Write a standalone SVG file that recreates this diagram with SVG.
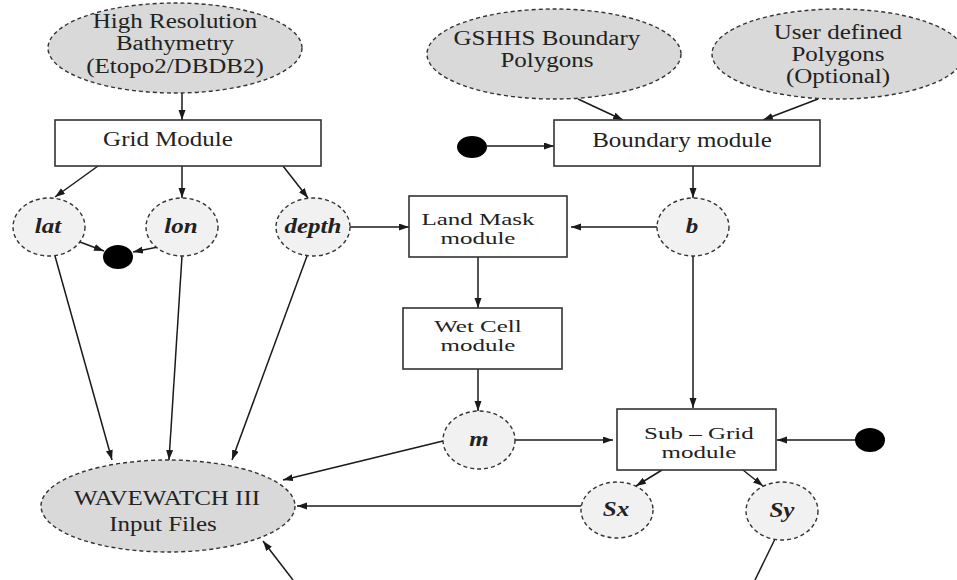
<svg xmlns="http://www.w3.org/2000/svg" width="957" height="580" viewBox="0 0 957 580">
  <style>
    .src { fill: #d9d9d9; stroke: #333; stroke-width: 1.4; stroke-dasharray: 4 3; }
    .var { fill: #f1f1f1; stroke: #333; stroke-width: 1.4; stroke-dasharray: 4 3; }
    .mod { fill: #fff; stroke: #333; stroke-width: 1.6; }
    .dot { fill: #000; }
    .edge { fill: none; stroke: #1a1a1a; stroke-width: 1.5; }
    .arrow { marker-end: url(#head); }
    text { font-family: "Liberation Serif", "Times New Roman", serif; font-size: 20px; fill: #222; text-anchor: middle;
           transform-box: fill-box; transform-origin: center; transform: scaleX(1.25); }
    .lbl { font-weight: bold; font-style: italic; }
    .two { font-size: 17px; transform: scaleX(1.47); }
  </style>
  <defs>
    <marker id="head" markerUnits="userSpaceOnUse" markerWidth="10" markerHeight="8" refX="10" refY="3.5" orient="auto">
      <path d="M0,0 L10,3.5 L0,7 z" fill="#1a1a1a"/>
    </marker>
  </defs>
  <rect width="957" height="580" fill="#fff"/>

  <!-- connectors -->
  <g id="connectors">
    <line class="edge arrow" x1="182" y1="93" x2="182" y2="120"/>
    <line class="edge arrow" x1="98" y1="166" x2="55" y2="197"/>
    <line class="edge arrow" x1="182" y1="166" x2="182" y2="198"/>
    <line class="edge arrow" x1="283" y1="166" x2="308" y2="198"/>
    <line class="edge arrow" x1="80" y1="242" x2="104" y2="251"/>
    <line class="edge arrow" x1="158" y1="247" x2="133" y2="252"/>
    <line class="edge arrow" x1="55" y1="256" x2="112" y2="460"/>
    <line class="edge arrow" x1="182" y1="256" x2="169" y2="460"/>
    <line class="edge arrow" x1="307" y1="256" x2="232" y2="460"/>
    <line class="edge arrow" x1="350" y1="227" x2="409" y2="227"/>
    <line class="edge arrow" x1="657" y1="227" x2="571" y2="227"/>
    <line class="edge arrow" x1="578" y1="99" x2="623" y2="120"/>
    <line class="edge arrow" x1="818" y1="99" x2="763" y2="120"/>
    <line class="edge arrow" x1="487" y1="146" x2="554" y2="146"/>
    <line class="edge arrow" x1="693" y1="166" x2="693" y2="198"/>
    <line class="edge arrow" x1="478" y1="257" x2="478" y2="308"/>
    <line class="edge arrow" x1="478" y1="369" x2="478" y2="411"/>
    <line class="edge arrow" x1="693" y1="256" x2="693" y2="408"/>
    <line class="edge arrow" x1="515" y1="440" x2="613" y2="440"/>
    <line class="edge arrow" x1="855" y1="440" x2="777" y2="440"/>
    <line class="edge arrow" x1="662" y1="470" x2="636" y2="486"/>
    <line class="edge arrow" x1="743" y1="470" x2="763" y2="486"/>
    <line class="edge arrow" x1="443" y1="441" x2="283" y2="480"/>
    <line class="edge arrow" x1="581" y1="506" x2="297" y2="506"/>
    <line class="edge arrow" x1="293" y1="580" x2="263" y2="541"/>
    <line class="edge" x1="775" y1="539" x2="755" y2="580"/>
  </g>

  <!-- data sources -->
  <g id="bathymetry">
    <ellipse class="src" cx="175" cy="48" rx="127" ry="45"/>
    <text x="175" y="28">High Resolution</text>
    <text x="175" y="50">Bathymetry</text>
    <text x="175" y="73">(Etopo2/DBDB2)</text>
  </g>
  <g id="gshhs">
    <ellipse class="src" cx="554" cy="54" rx="127" ry="45"/>
    <text x="547" y="45">GSHHS Boundary</text>
    <text x="547" y="67">Polygons</text>
  </g>
  <g id="user-polygons">
    <ellipse class="src" cx="838" cy="54" rx="126" ry="45"/>
    <text x="838" y="39">User defined</text>
    <text x="838" y="61">Polygons</text>
    <text x="838" y="83">(Optional)</text>
  </g>

  <!-- modules -->
  <g id="grid-module">
    <rect class="mod" x="55" y="120" width="266" height="46"/>
    <text x="168" y="146">Grid Module</text>
  </g>
  <g id="boundary-module">
    <rect class="mod" x="554" y="120" width="266" height="46"/>
    <text x="682" y="147">Boundary module</text>
  </g>
  <g id="boundary-input">
    <ellipse class="dot" cx="472" cy="147" rx="15" ry="11"/>
  </g>
  <g id="landmask-module">
    <rect class="mod" x="409" y="196" width="158" height="61"/>
    <text class="two" x="478" y="225">Land Mask</text>
    <text class="two" x="478" y="244">module</text>
  </g>
  <g id="wetcell-module">
    <rect class="mod" x="403" y="308" width="159" height="61"/>
    <text class="two" x="478" y="332">Wet Cell</text>
    <text class="two" x="478" y="351">module</text>
  </g>
  <g id="subgrid-module">
    <rect class="mod" x="617" y="409" width="159" height="61"/>
    <text class="two" x="699" y="439">Sub – Grid</text>
    <text class="two" x="699" y="458">module</text>
  </g>
  <g id="subgrid-input">
    <ellipse class="dot" cx="870" cy="440" rx="15" ry="12"/>
  </g>

  <!-- variables -->
  <g id="lat">
    <ellipse class="var" cx="49" cy="227" rx="36" ry="29"/>
    <text class="lbl" x="48" y="233">lat</text>
  </g>
  <g id="lon">
    <ellipse class="var" cx="182" cy="227" rx="36" ry="29"/>
    <text class="lbl" x="181" y="233">lon</text>
  </g>
  <g id="depth">
    <ellipse class="var" cx="313" cy="227" rx="37" ry="29"/>
    <text class="lbl" x="313" y="233">depth</text>
  </g>
  <g id="latlon-sink">
    <ellipse class="dot" cx="118" cy="257" rx="15" ry="12"/>
  </g>
  <g id="b">
    <ellipse class="var" cx="693" cy="227" rx="36" ry="29"/>
    <text class="lbl" x="692" y="233">b</text>
  </g>
  <g id="m">
    <ellipse class="var" cx="479" cy="440" rx="36" ry="29"/>
    <text class="lbl" x="479" y="446">m</text>
  </g>
  <g id="sx">
    <ellipse class="var" cx="617" cy="510" rx="36" ry="28"/>
    <text class="lbl" x="616" y="516">Sx</text>
  </g>
  <g id="sy">
    <ellipse class="var" cx="782" cy="511" rx="36" ry="29"/>
    <text class="lbl" x="782" y="517">Sy</text>
  </g>

  <!-- output -->
  <g id="ww3-input">
    <ellipse class="src" cx="168" cy="506" rx="127" ry="46"/>
    <text x="167" y="505">WAVEWATCH III</text>
    <text x="163" y="531">Input Files</text>
  </g>
</svg>
